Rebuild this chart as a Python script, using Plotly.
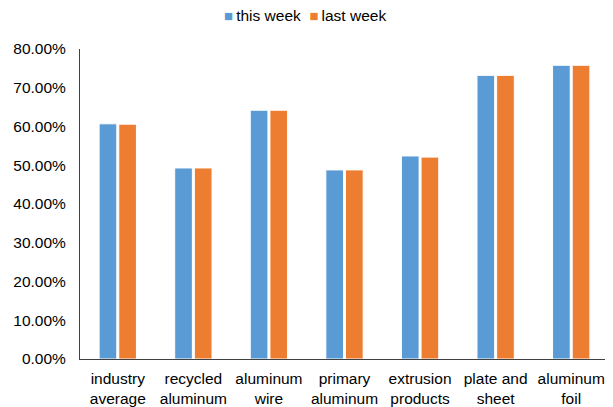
import plotly.graph_objects as go

categories = ["industry<br>average", "recycled<br>aluminum", "aluminum<br>wire", "primary<br>aluminum",
              "extrusion<br>products", "plate and<br>sheet", "aluminum<br>foil"]
series_names = ["this week", "last week"]
this_week = [60.7, 49.3, 64.2, 48.8, 52.4, 73.2, 75.8]
last_week = [60.6, 49.3, 64.2, 48.8, 52.1, 73.2, 75.8]
y_ticks = [0, 10, 20, 30, 40, 50, 60, 70, 80]
colors = ["#5B9BD5", "#ED7D31"]

fig = go.Figure()
for name, vals, col in zip(series_names, [this_week, last_week], colors):
    fig.add_trace(go.Bar(name=name, x=categories, y=vals, showlegend=False,
                         marker=dict(color=col, line=dict(color="white", width=1))))

# page has an 8px body margin, so the figure is sized/offset to compensate
W, H = 605, 399
L, R, T, B = 72, 4, 41, 48
plot_w, plot_h = W - L - R, H - T - B

legend_text = (f"<span style='color:{colors[0]};font-size:15px'>■</span>\u2009{series_names[0]}"
               f"\u00a0\u00a0<span style='color:{colors[1]};font-size:15px'>■</span>\u2009{series_names[1]}")
fig.add_annotation(text=legend_text, xref="paper", yref="paper",
                   x=(305 - 8 - L) / plot_w, y=1 + (T - 7) / plot_h,
                   xanchor="center", yanchor="middle", showarrow=False,
                   font=dict(size=15.5, color="#000000"))

fig.update_layout(
    width=W, height=H,
    margin=dict(l=L, r=R, t=T, b=B, autoexpand=False),
    paper_bgcolor="white", plot_bgcolor="white",
    font=dict(family="Liberation Sans, Arial, sans-serif", size=15.5, color="#000000"),
    barmode="group", bargap=0.48, bargroupgap=0.1,
    showlegend=False,
)
fig.update_xaxes(showline=True, linecolor="#404040", linewidth=1, showgrid=False,
                 ticks="", tickfont=dict(size=15.5), ticklabelstandoff=5, automargin=False)
fig.update_yaxes(range=[0, 80], tickvals=y_ticks, ticktext=[f"{v:.2f}%" for v in y_ticks],
                 showline=True, linecolor="#404040", linewidth=1, showgrid=False,
                 zeroline=False, ticks="", ticklabelstandoff=10, tickfont=dict(size=15.5),
                 automargin=False)

fig.write_html("out.html")
